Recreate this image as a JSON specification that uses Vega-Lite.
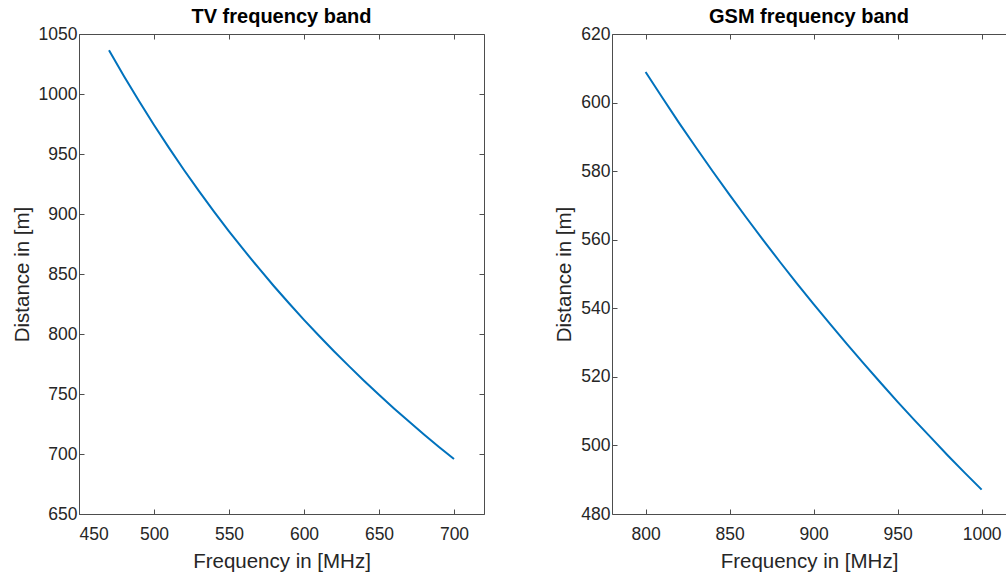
{
  "$schema": "https://vega.github.io/schema/vega-lite/v6.json",
  "background": "white",
  "padding": {"left": 12, "top": 7, "right": 0, "bottom": 0},
  "config": {
    "font": "Liberation Sans",
    "view": {"stroke": null},
    "axis": {
      "grid": false,
      "domainColor": "#4d4d4d",
      "tickColor": "#4d4d4d",
      "tickSize": -5,
      "labelColor": "#262626",
      "titleFontWeight": "normal",
      "titleColor": "#262626",
      "labelFont": "Liberation Sans",
      "titleFont": "Liberation Sans"
    },
    "title": {"fontSize": 20, "fontWeight": "bold", "color": "#000000", "font": "Liberation Sans", "offset": -2}
  },
  "datasets": {
    "tv": [
      {"f": 470, "d": 1036.4}, {"f": 480, "d": 1014.8}, {"f": 490, "d": 994.1}, {"f": 500, "d": 974.2},
      {"f": 510, "d": 955.1}, {"f": 520, "d": 936.7}, {"f": 530, "d": 919.1}, {"f": 540, "d": 902.0},
      {"f": 550, "d": 885.6}, {"f": 560, "d": 869.8}, {"f": 570, "d": 854.6}, {"f": 580, "d": 839.8},
      {"f": 590, "d": 825.6}, {"f": 600, "d": 811.8}, {"f": 610, "d": 798.5}, {"f": 620, "d": 785.6},
      {"f": 630, "d": 773.2}, {"f": 640, "d": 761.1}, {"f": 650, "d": 749.4}, {"f": 660, "d": 738.0},
      {"f": 670, "d": 727.0}, {"f": 680, "d": 716.3}, {"f": 690, "d": 705.9}, {"f": 700, "d": 695.9}
    ],
    "gsm": [
      {"f": 800, "d": 608.9}, {"f": 810, "d": 601.4}, {"f": 820, "d": 594.0}, {"f": 830, "d": 586.9},
      {"f": 840, "d": 579.9}, {"f": 850, "d": 573.1}, {"f": 860, "d": 566.4}, {"f": 870, "d": 559.9},
      {"f": 880, "d": 553.5}, {"f": 890, "d": 547.3}, {"f": 900, "d": 541.2}, {"f": 910, "d": 535.3},
      {"f": 920, "d": 529.5}, {"f": 930, "d": 523.8}, {"f": 940, "d": 518.2}, {"f": 950, "d": 512.7},
      {"f": 960, "d": 507.4}, {"f": 970, "d": 502.2}, {"f": 980, "d": 497.0}, {"f": 990, "d": 492.0},
      {"f": 1000, "d": 487.1}
    ]
  },
  "hconcat": [
    {
      "title": "TV frequency band",
      "width": 405,
      "height": 480,
      "data": {"name": "tv"},
      "resolve": {"axis": {"x": "independent", "y": "independent"}},
      "layer": [
        {
          "mark": {"type": "line", "color": "#0072BD", "strokeWidth": 2},
          "encoding": {
            "x": {"field": "f", "type": "quantitative", "scale": {"domain": [450, 720], "nice": false, "zero": false},
                  "axis": {"values": [450, 500, 550, 600, 650, 700], "format": "d", "title": "Frequency in [MHz]", "labelFontSize": 17.5, "titleFontSize": 20.5, "labelPadding": 16, "titlePadding": 9}},
            "y": {"field": "d", "type": "quantitative", "scale": {"domain": [650, 1050], "nice": false, "zero": false},
                  "axis": {"values": [650, 700, 750, 800, 850, 900, 950, 1000, 1050], "format": "d", "title": "Distance in [m]", "labelFontSize": 17.5, "titleFontSize": 20.5, "labelPadding": 7, "titlePadding": 6}}
          }
        },
        {
          "mark": {"type": "line", "strokeOpacity": 0},
          "encoding": {
            "x": {"field": "f", "type": "quantitative", "axis": {"orient": "top", "values": [450, 500, 550, 600, 650, 700], "labels": false, "title": null}},
            "y": {"field": "d", "type": "quantitative", "axis": {"orient": "right", "values": [650, 700, 750, 800, 850, 900, 950, 1000, 1050], "labels": false, "title": null}}
          }
        }
      ]
    },
    {
      "title": "GSM frequency band",
      "width": 394,
      "height": 480,
      "data": {"name": "gsm"},
      "resolve": {"axis": {"x": "independent", "y": "independent"}},
      "layer": [
        {
          "mark": {"type": "line", "color": "#0072BD", "strokeWidth": 2},
          "encoding": {
            "x": {"field": "f", "type": "quantitative", "scale": {"domain": [780, 1014.5], "nice": false, "zero": false},
                  "axis": {"values": [800, 850, 900, 950, 1000], "format": "d", "title": "Frequency in [MHz]", "labelFontSize": 17.5, "titleFontSize": 20.5, "labelPadding": 16, "titlePadding": 9}},
            "y": {"field": "d", "type": "quantitative", "scale": {"domain": [480, 620], "nice": false, "zero": false},
                  "axis": {"values": [480, 500, 520, 540, 560, 580, 600, 620], "format": "d", "title": "Distance in [m]", "labelFontSize": 17.5, "titleFontSize": 20.5, "labelPadding": 7, "titlePadding": 6}}
          }
        },
        {
          "mark": {"type": "line", "strokeOpacity": 0},
          "encoding": {
            "x": {"field": "f", "type": "quantitative", "axis": {"orient": "top", "values": [800, 850, 900, 950, 1000], "labels": false, "title": null}}
          }
        }
      ]
    }
  ],
  "spacing": 69
}
